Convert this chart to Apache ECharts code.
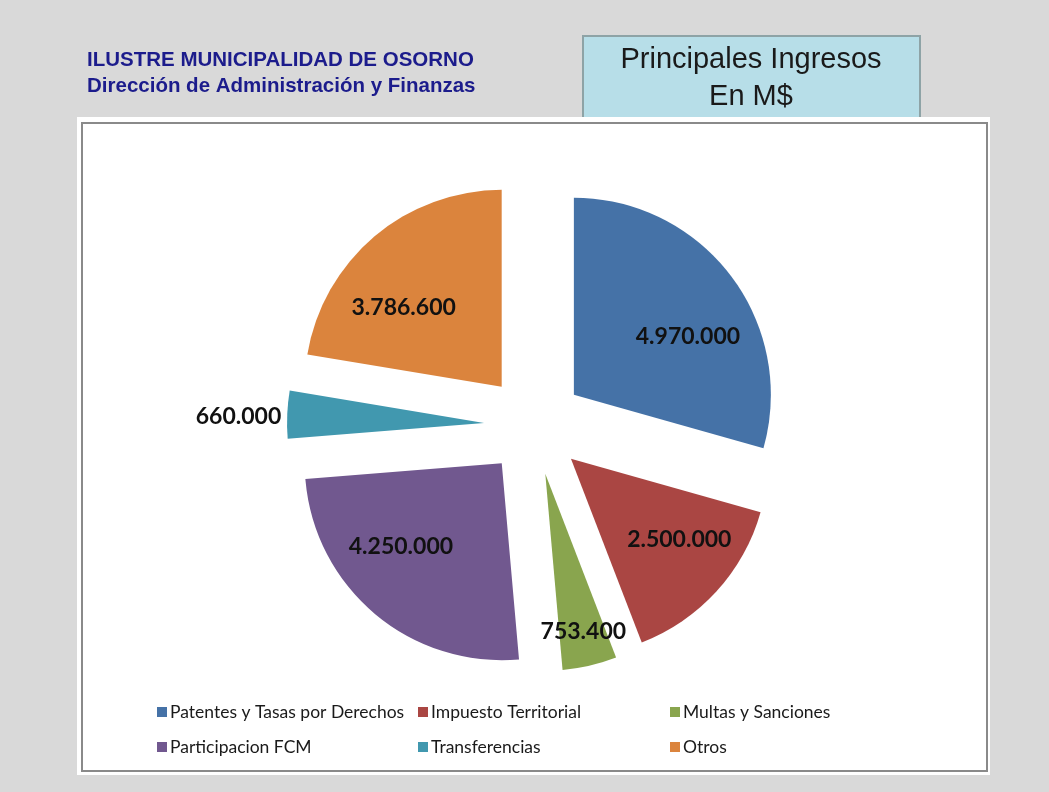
<!doctype html>
<html>
<head>
    <meta charset="UTF-8">
    <title>Principales Ingresos - Osorno</title>
    <script src="https://cdn.jsdelivr.net/npm/echarts@6/dist/echarts.min.js"></script>
    <style>
        html, body { margin: 0; padding: 0; background: #d9d9d9; }
        #main { width: 1049px; height: 792px; }
    </style>
</head>
<body>
<div id="main"></div>
<script type="text/javascript">
    // datos del grafico
    var categorias = ['Patentes y Tasas por Derechos', 'Impuesto Territorial', 'Multas y Sanciones',
        'Participacion FCM', 'Transferencias', 'Otros'];
    var valores = [4970000, 2500000, 753400, 4250000, 660000, 3786600];
    var colores = ['#4572a7', '#aa4643', '#89a54e', '#71588f', '#4198af', '#db843d'];
    // columnas de la leyenda
    var leyendaCol1 = ['Patentes y Tasas por Derechos', 'Participacion FCM'];
    var leyendaCol2 = ['Impuesto Territorial', 'Transferencias'];
    var leyendaCol3 = ['Multas y Sanciones', 'Otros'];

    function formato(v) {
        return String(v).replace(/\B(?=(\d{3})+(?!\d))/g, '.');
    }

    var myChart = echarts.init(document.getElementById('main'));

    var centro = [534, 425];
    var radio = 197;
    var separacion = 50;

    var datosTorta = categorias.map(function (c, i) {
        return {name: c, value: valores[i], selected: true, itemStyle: {color: colores[i]}};
    });
    // serie transparente solo para ubicar las etiquetas
    var datosEtiquetas = categorias.map(function (c, i) {
        var d = {name: c, value: valores[i], selected: true};
        if (c === 'Transferencias') {
            d.label = {position: 'outside'};
            d.labelLine = {show: false, length: 4, length2: 0};
        }
        return d;
    });

    // pequeños ajustes de las etiquetas (como las ubica Excel)
    var ajusteEtiqueta = [[8, 22], [10, -9], [8, 28], [-15, -18], [3, 2], [-12, 22]];

    function leyenda(left, data) {
        return {
            orient: 'vertical',
            left: left,
            top: 698,
            data: data,
            icon: 'rect',
            itemWidth: 10,
            itemHeight: 10,
            itemGap: 17,
            selectedMode: false,
            textStyle: {fontFamily: 'Lato', fontSize: 17.5, color: '#1a1a1a', lineHeight: 18, padding: [0, 0, 0, -2]}
        };
    }

    var option = {
        backgroundColor: '#d9d9d9',
        animation: false,
        graphic: [
            {
                type: 'rect', z: 0,
                shape: {x: 583, y: 36, width: 337, height: 82},
                style: {fill: '#b7dee8', stroke: '#8ea3a6', lineWidth: 2}
            },
            {
                type: 'text', z: 1, x: 751, y: 41,
                style: {
                    text: 'Principales Ingresos\nEn M$', align: 'center', verticalAlign: 'top',
                    font: '29px "Liberation Sans", Arial', fill: '#1a1a1a', lineHeight: 37
                }
            },
            {
                type: 'rect', z: 1,
                shape: {x: 77, y: 117, width: 913, height: 658},
                style: {fill: '#ffffff'}
            },
            {
                type: 'rect', z: 2,
                shape: {x: 82, y: 123, width: 905, height: 648},
                style: {fill: 'none', stroke: '#8a8a8a', lineWidth: 2}
            },
            {
                type: 'text', z: 1, left: 87, top: 47,
                style: {
                    text: 'ILUSTRE MUNICIPALIDAD DE OSORNO\nDirección de Administración y Finanzas',
                    font: 'bold 20.5px "Liberation Sans", Arial', fill: '#1c1c8c', lineHeight: 26
                }
            }
        ],
        legend: [leyenda(152, leyendaCol1), leyenda(413, leyendaCol2), leyenda(665, leyendaCol3)],
        series: [
            {
                name: 'Ingresos',
                type: 'pie',
                center: centro,
                radius: [0, radio],
                startAngle: 90,
                selectedMode: 'multiple',
                selectedOffset: separacion,
                silent: true,
                label: {show: false},
                labelLine: {show: false},
                emphasis: {disabled: true},
                data: datosTorta
            },
            {
                name: 'Etiquetas',
                type: 'pie',
                center: centro,
                radius: [radio * 0.32, radio],
                startAngle: 90,
                selectedMode: 'multiple',
                selectedOffset: separacion,
                silent: true,
                avoidLabelOverlap: false,
                itemStyle: {color: 'rgba(0,0,0,0)'},
                emphasis: {disabled: true},
                label: {
                    show: true,
                    position: 'inside',
                    color: '#111',
                    fontFamily: 'Lato',
                    fontWeight: 'bold',
                    fontSize: 23,
                    formatter: function (p) {
                        return formato(p.value);
                    }
                },
                labelLine: {show: false},
                labelLayout: function (p) {
                    var a = ajusteEtiqueta[p.dataIndex];
                    return {dx: a[0], dy: a[1]};
                },
                data: datosEtiquetas
            }
        ]
    };
    myChart.setOption(option);
</script>
</body>
</html>
